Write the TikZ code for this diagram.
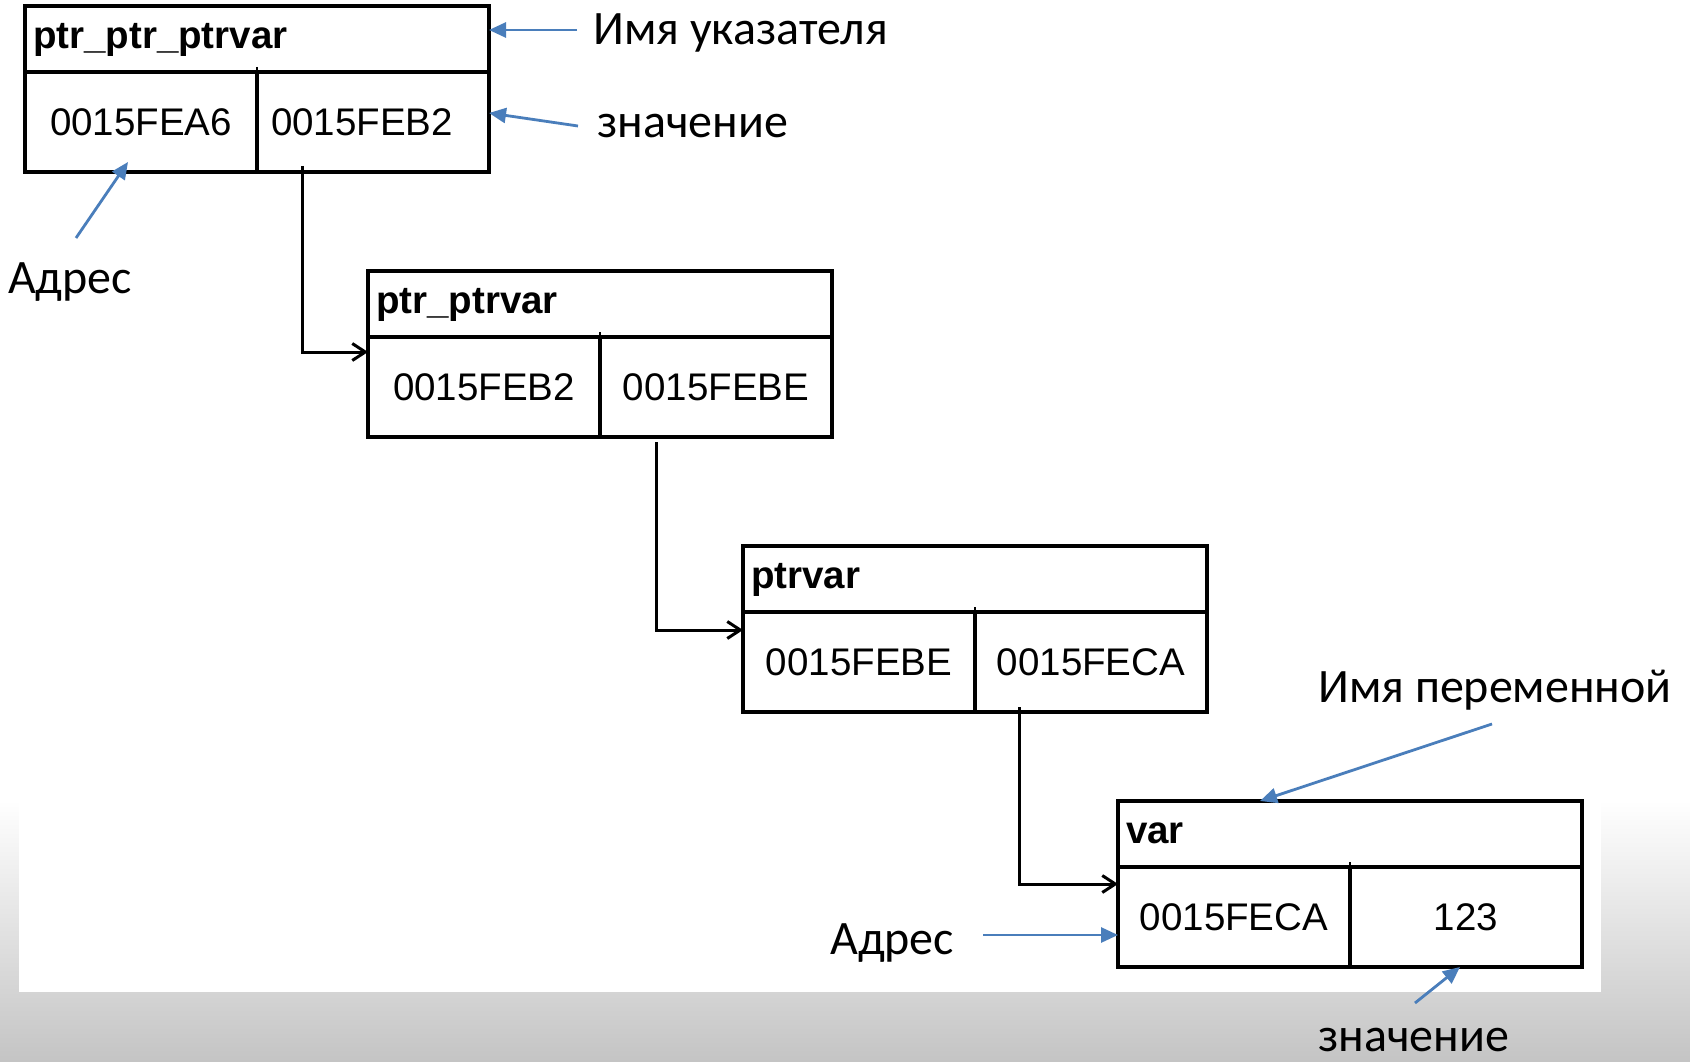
\documentclass[tikz,border=0pt]{standalone}
\usepackage{fontspec}
\setmainfont{Liberation Sans}
\newfontfamily\notefont{Carlito}
\usepackage{tikz}
\usetikzlibrary{arrows.meta}
\definecolor{noteblue}{RGB}{74,126,187}
\definecolor{bggrey}{RGB}{196,196,196}
\newcommand{\boxfont}{\fontsize{38.5}{44}\selectfont}
\newcommand{\boxbold}{\fontsize{38.5}{44}\selectfont\bfseries}
\newcommand{\notesize}{\notefont\fontsize{48}{57}\selectfont}

\begin{document}
\begin{tikzpicture}[x=1pt,y=-1pt]
\tikzstyle{head}=[rectangle, draw=black, line width=3.4pt, outer sep=0pt, anchor=north west, minimum width=464pt, minimum height=66pt, text width=448pt, inner xsep=8pt, inner ysep=0pt, align=left, font=\boxbold, text height=27pt, text depth=8pt]
\tikzstyle{cell}=[rectangle, draw=black, line width=3.4pt, outer sep=0pt, minimum width=232pt, minimum height=100pt, inner sep=0pt, font=\boxfont, text height=27.5pt, text depth=0pt]
\tikzstyle{note}=[anchor=base west, inner sep=0pt, font=\notesize]
\tikzstyle{link}=[-{Straight Barb[length=13pt,width=17pt]}, line width=3pt, black]
\tikzstyle{hint}=[-{Triangle[length=17pt,width=15pt]}, line width=2.8pt, noteblue]
\tikzstyle{tick}=[line width=2.8pt]

	% background
	\useasboundingbox (0,0) rectangle (1690,1062);
	\fill[white] (0,0) rectangle (1690,800);
	\shade[top color=white, bottom color=bggrey] (0,800) rectangle (1690,1062);
	\fill[white] (19,0) rectangle (1601,992);

	% boxes
	\node[head] (b1name) at (25,6) {ptr\_ptr\_ptrvar};
	\node[cell, anchor=north west] (b1addr) at (b1name.south west) {0015FEA6};
	\node[cell, anchor=north east] (b1val) at (b1name.south east) {0015FEB2\hspace*{22pt}};
	
	\node[head] (b2name) at (368,271) {ptr\_ptrvar};
	\node[cell, anchor=north west] (b2addr) at (b2name.south west) {0015FEB2};
	\node[cell, anchor=north east] (b2val) at (b2name.south east) {0015FEBE};
	
	\node[head] (b3name) at (743,546) {ptrvar};
	\node[cell, anchor=north west] (b3addr) at (b3name.south west) {0015FEBE};
	\node[cell, anchor=north east] (b3val) at (b3name.south east) {0015FECA};
	
	\node[head] (b4name) at (1118,801) {var};
	\node[cell, anchor=north west] (b4addr) at (b4name.south west) {0015FECA};
	\node[cell, anchor=north east] (b4val) at (b4name.south east) {123};
	
	\draw[tick] ([yshift=5pt]b1val.north west) -- (b1val.north west);
	\draw[tick] ([yshift=5pt]b2val.north west) -- (b2val.north west);
	\draw[tick] ([yshift=5pt]b3val.north west) -- (b3val.north west);
	\draw[tick] ([yshift=5pt]b4val.north west) -- (b4val.north west);

	% labels
	\node[note] (n1) at (593,45) {Имя указателя};
	\node[note] (n2) at (597,138) {значение};
	\node[note] (n3) at (8,293) {Адрес};
	\node[note] (n4) at (1318,702) {Имя переменной};
	\node[note] (n5) at (830,954) {Адрес};
	\node[note] (n6) at (1318,1051) {значение};

	% pointers
	\draw[link] ([xshift=45pt,yshift=6pt]b1val.south west) |- ([yshift=-15pt]b2addr.north west);
	\draw[link] ([xshift=56pt,yshift=-5pt]b2val.south west) |- ([yshift=-18pt]b3addr.north west);
	\draw[link] ([xshift=44pt,yshift=5pt]b3val.south west) |- ([yshift=-17pt]b4addr.north west);

	% notes
	\draw[hint] ([xshift=-16pt,yshift=15pt]n1.base west) -- ([yshift=9pt]b1name.east);
	\draw[hint] ([xshift=-19pt,yshift=12pt]n2.base west) -- ([yshift=9pt]b1val.east);
	\draw[hint] ([xshift=68pt,yshift=55pt]n3.base west) -- ([xshift=-13pt,yshift=10pt]b1addr.south);
	\draw[hint] ([xshift=174pt,yshift=-22pt]n4.base west) -- ([xshift=-90pt]b4name.north);
	\draw[hint] ([xshift=153pt,yshift=19pt]n5.base west) -- ([yshift=-18pt]b4addr.west);
	\draw[hint] ([xshift=97pt,yshift=48pt]n6.base west) -- ([xshift=-6pt]b4val.south);

\end{tikzpicture}
\end{document}
